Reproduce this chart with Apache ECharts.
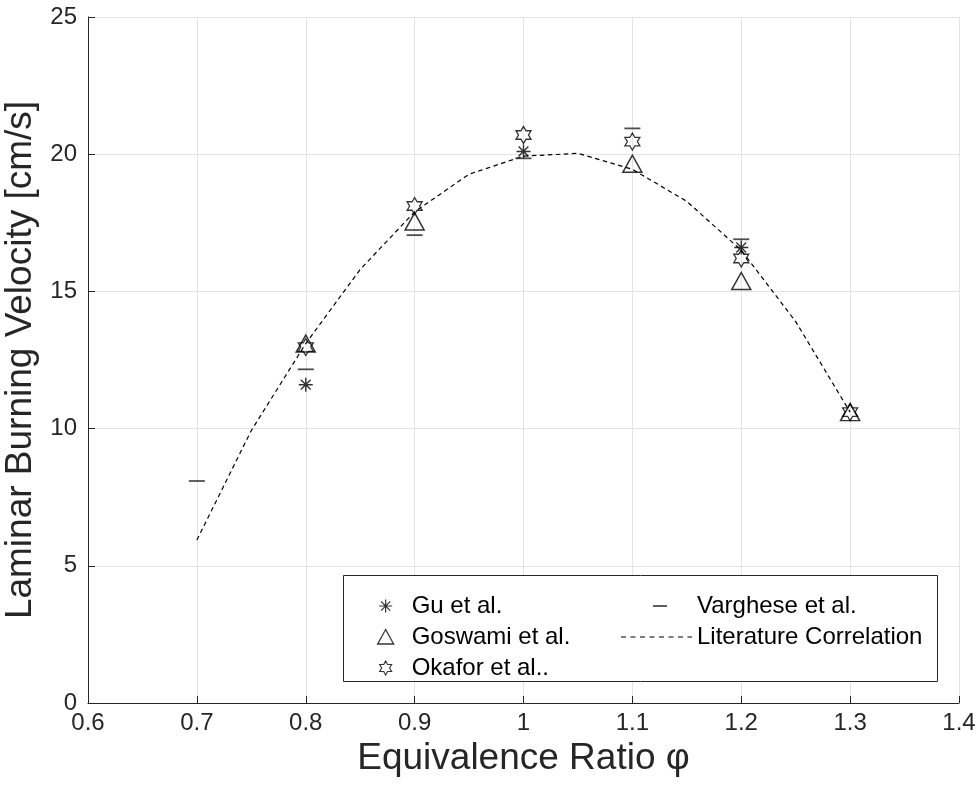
<!DOCTYPE html>
<html><head><meta charset="utf-8">
<script src="https://cdn.jsdelivr.net/npm/echarts@6/dist/echarts.min.js"></script>
<style>html,body{margin:0;padding:0;background:#fff}#c{width:979px;height:787px}</style>
</head><body><div id="c"></div>
<script>
// ---- data ----
const xTicks = [0.6, 0.7, 0.8, 0.9, 1.0, 1.1, 1.2, 1.3, 1.4];
const yTicks = [0, 5, 10, 15, 20, 25];

const guX = [0.8, 1.0, 1.2];
const guY = [11.6, 20.1, 16.6];

const goswamiX = [0.8, 0.9, 1.1, 1.2, 1.3];
const goswamiY = [13.1, 17.55, 19.65, 15.38, 10.6];

const okaforX = [0.8, 0.9, 1.0, 1.1, 1.2, 1.3];
const okaforY = [12.97, 18.11, 20.7, 20.46, 16.2, 10.6];

const vargheseX = [0.7, 0.8, 0.9, 1.0, 1.1, 1.2];
const vargheseY = [8.09, 12.16, 17.05, 19.85, 20.94, 16.9];

const litX = [0.70, 0.75, 0.80, 0.85, 0.90, 0.95, 1.00, 1.05, 1.10, 1.15, 1.20, 1.25, 1.30];
const litY = [5.94, 9.93, 13.1, 15.8, 17.9, 19.27, 19.93, 20.03, 19.45, 18.28, 16.5, 13.9, 10.6];

const seriesNames = ['Gu et al.', 'Goswami et al.', 'Okafor et al..', 'Varghese et al.', 'Literature Correlation'];

// ---- symbols ----
const asteriskPath = 'path://M10,0 L10,20 M0,10 L20,10 M3,3 L17,17 M17,3 L3,17';
const hexPath = 'path://M10,0 L12.887,5 L18.66,5 L15.77,10 L18.66,15 L12.887,15 L10,20 L7.113,15 L1.34,15 L4.23,10 L1.34,5 L7.113,5 Z';
// legend icons (invisible moveTo extents place the glyph inside a wider icon box)
const legAsterisk = 'path://M0,0 M30,18 M9,2.5 L9,15.5 M2.5,9 L15.5,9 M4.4,4.4 L13.6,13.6 M13.6,4.4 L4.4,13.6';
const legTriangle = 'path://M0,0 M30,18 M9,1.5 L17,16 L1,16 Z';
const legHex = 'path://M0,0 M30,18 M9,2 L10.9,5.5 L15,5.5 L12.9,9 L15,12.5 L10.9,12.5 L9,16 L7.1,12.5 L3,12.5 L5.1,9 L3,5.5 L7.1,5.5 Z';
const legDash = 'path://M0,0 M71,18 M32,8.2 L46,8.2 L46,9.8 L32,9.8 Z';
let legLine = 'path://M0,0 M71,18';
for (let x = 0; x < 71; x += 9.5) {
  const e = Math.min(x + 5, 71);
  legLine += ` M${x},8.4 L${e},8.4 L${e},9.6 L${x},9.6 Z`;
}

const zip = (xs, ys) => xs.map((x, i) => [x, ys[i]]);
const black = '#000';
const font = 'Liberation Sans, Arial, Helvetica, sans-serif';

const chart = echarts.init(document.getElementById('c'), null, {renderer: 'canvas'});
chart.setOption({
  animation: false,
  backgroundColor: '#fff',
  textStyle: {fontFamily: font},
  grid: {left: 88, right: 20, top: 17, bottom: 84, containLabel: false, outerBoundsMode: 'none'},
  xAxis: {
    type: 'value', min: xTicks[0], max: xTicks[xTicks.length - 1], interval: 0.1,
    name: 'Equivalence Ratio φ', nameLocation: 'middle', nameGap: 22,
    nameTextStyle: {fontSize: 37, color: '#262626', fontFamily: font},
    axisLine: {show: true, onZero: false, lineStyle: {color: '#262626', width: 1}},
    axisTick: {show: true, inside: true, length: 7, lineStyle: {color: '#262626'}},
    axisLabel: {fontSize: 24, color: '#262626', margin: 8, fontFamily: font,
      formatter: v => String(+(+v).toFixed(1))},
    splitLine: {show: true, lineStyle: {color: '#e3e3e3', width: 1}}
  },
  yAxis: {
    type: 'value', min: yTicks[0], max: yTicks[yTicks.length - 1], interval: 5,
    name: 'Laminar Burning Velocity [cm/s]', nameLocation: 'middle', nameGap: 42,
    nameTextStyle: {fontSize: 37, color: '#262626', fontFamily: font},
    axisLine: {show: true, lineStyle: {color: '#262626', width: 1}},
    axisTick: {show: true, inside: true, length: 7, lineStyle: {color: '#262626'}},
    axisLabel: {fontSize: 24, color: '#262626', margin: 11, fontFamily: font},
    splitLine: {show: true, lineStyle: {color: '#e3e3e3', width: 1}}
  },
  graphic: [{
    type: 'rect', z: 3, left: 343, top: 575,
    shape: {width: 594, height: 106},
    style: {fill: '#fff', stroke: '#262626', lineWidth: 1}
  }],
  legend: [{
    z: 10, orient: 'vertical', left: 371, top: 589, itemWidth: 30, itemHeight: 18, itemGap: 7,
    selectedMode: false,
    textStyle: {fontSize: 24, lineHeight: 24, color: '#000', fontFamily: font},
    data: [
      {name: seriesNames[0], icon: legAsterisk, itemStyle: {color: 'rgba(0,0,0,0)', borderColor: black, borderWidth: 1.2}},
      {name: seriesNames[1], icon: legTriangle, itemStyle: {color: 'rgba(0,0,0,0)', borderColor: black, borderWidth: 1.3}},
      {name: seriesNames[2], icon: legHex, itemStyle: {color: 'rgba(0,0,0,0)', borderColor: black, borderWidth: 1.1}}
    ]
  }, {
    z: 10, orient: 'vertical', left: 616, top: 589, itemWidth: 71, itemHeight: 18, itemGap: 7,
    selectedMode: false,
    textStyle: {fontSize: 24, lineHeight: 24, color: '#000', fontFamily: font},
    data: [
      {name: seriesNames[3], icon: legDash, itemStyle: {color: black, borderWidth: 0}},
      {name: seriesNames[4], icon: legLine, itemStyle: {color: black, borderWidth: 0}}
    ]
  }],
  series: [
    {
      name: seriesNames[4], type: 'line', data: zip(litX, litY), symbol: 'none', smooth: false, z: 2,
      lineStyle: {color: black, width: 1.2, type: [4.5, 3.5]},
      itemStyle: {color: black}
    },
    {
      name: seriesNames[0], type: 'scatter', data: zip(guX, guY), symbol: asteriskPath, symbolSize: 14, z: 4,
      itemStyle: {color: 'rgba(0,0,0,0)', borderColor: black, borderWidth: 1.4}
    },
    {
      name: seriesNames[1], type: 'scatter', data: zip(goswamiX, goswamiY), symbol: 'triangle', symbolSize: [19, 17], z: 4,
      itemStyle: {color: 'rgba(0,0,0,0)', borderColor: black, borderWidth: 1.5}
    },
    {
      name: seriesNames[2], type: 'scatter', data: zip(okaforX, okaforY), symbol: hexPath, symbolSize: [15, 17], z: 4,
      itemStyle: {color: 'rgba(0,0,0,0)', borderColor: black, borderWidth: 1.3}
    },
    {
      name: seriesNames[3], type: 'scatter', data: zip(vargheseX, vargheseY), symbol: 'rect', symbolSize: [16, 1.8], z: 4,
      itemStyle: {color: '#222'}
    }
  ]
});
</script>
</body></html>
